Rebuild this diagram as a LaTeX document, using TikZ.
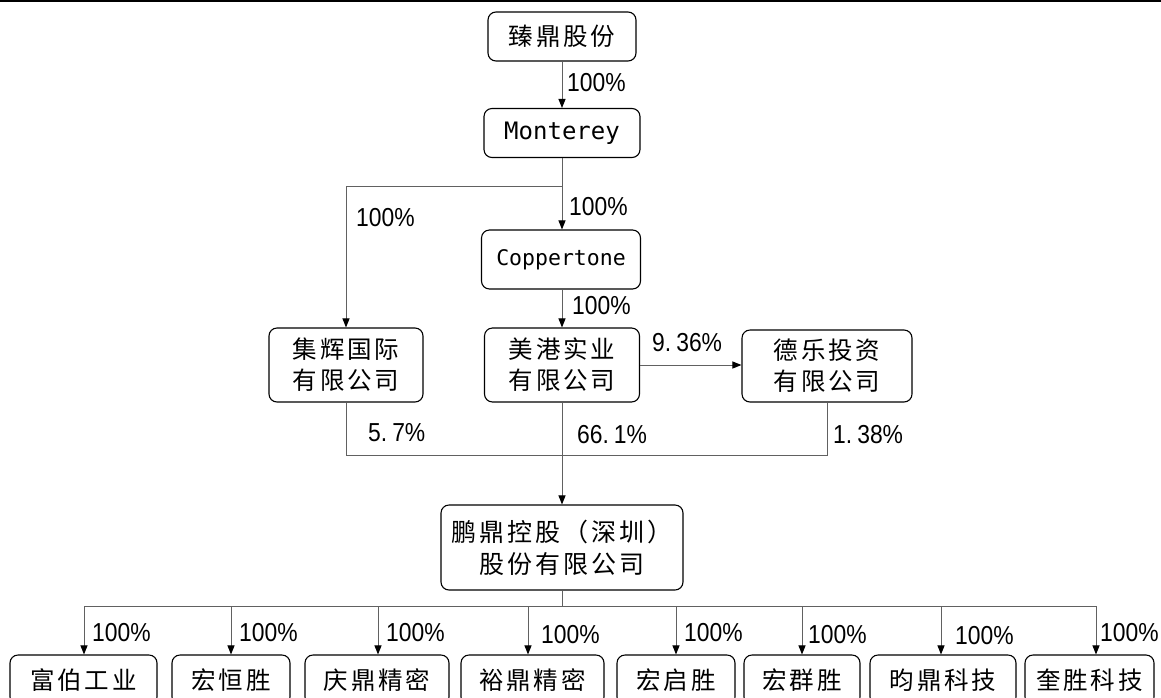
\documentclass[tikz,border=0pt]{standalone}
\usepackage{fontspec}
\usetikzlibrary{arrows.meta}
\newfontfamily\cjkfam[LetterSpace=12]{Noto Sans CJK SC}
\newfontfamily\pctfam[FakeStretch=0.88]{Liberation Sans}
\newfontfamily\monofam{DejaVu Sans Mono}
\newcommand{\cjkf}{\cjkfam\fontsize{24.5}{31}\selectfont}
\newcommand{\pctf}{\pctfam\fontsize{26}{28}\selectfont}
\begin{document}
\begin{tikzpicture}[x=1pt,y=-1pt,
  box/.style={draw=black, line width=1.1pt, rounded corners=8pt, inner sep=0pt, align=center, font=\cjkf},
  ln/.style={draw=black!62, line width=1pt},
  arr/.style={ln, -{Triangle[length=9pt,width=7pt,color=black]}},
  pl/.style={anchor=west, inner sep=0pt, font=\pctf}]
\useasboundingbox (0,0) rectangle (1161,697);
\clip (0,0) rectangle (1161,697);
\fill[white] (0,0) rectangle (1161,697);
\fill[black] (0,0) rectangle (1161,2);

% top chain
\node[box, minimum width=148pt, minimum height=49pt] (zd) at (562,36.5) {臻鼎股份};
\node[box, font={\monofam\fontsize{24}{26}\selectfont}, minimum width=156pt, minimum height=49pt] (mt) at (562,133) {Monterey};
\node[box, font={\monofam\fontsize{21.5}{24}\selectfont}, minimum width=159pt, minimum height=59pt] (cp) at (561,259.5) {Coppertone};
\node[box, minimum width=154pt, minimum height=74pt] (jh) at (346,365) {集辉国际\\有限公司};
\node[box, minimum width=155pt, minimum height=74pt] (mg) at (562,365) {美港实业\\有限公司};
\node[box, minimum width=170pt, minimum height=72pt] (dl) at (827,366) {德乐投资\\有限公司};
\node[box, font={\cjkfam\fontsize{25}{32}\selectfont}, minimum width=242pt, minimum height=85pt] (pd) at (562,547.5) {鹏鼎控股（深圳）\\股份有限公司};

% bottom row
\node[box, minimum width=147pt, minimum height=50pt] (n1) at (83.5,680) {富伯工业};
\node[box, minimum width=118pt, minimum height=50pt] (n2) at (231,680) {宏恒胜};
\node[box, minimum width=144pt, minimum height=50pt] (n3) at (377,680) {庆鼎精密};
\node[box, minimum width=143pt, minimum height=50pt] (n4) at (532.5,680) {裕鼎精密};
\node[box, minimum width=118pt, minimum height=50pt] (n5) at (676,680) {宏启胜};
\node[box, minimum width=116pt, minimum height=50pt] (n6) at (802,680) {宏群胜};
\node[box, minimum width=146pt, minimum height=50pt] (n7) at (943,680) {昀鼎科技};
\node[box, minimum width=129pt, minimum height=50pt] (n8) at (1089.5,680) {奎胜科技};

% connectors
\coordinate (b1) at (562,186);
\coordinate (b1l) at (346,186);
\draw[arr] (zd) -- (mt);
\draw[ln] (mt.south) -- (b1);
\draw[arr] (b1) -- (b1 |- cp.north);
\draw[arr] (b1) -- (b1l) -- (jh.north);
\draw[arr] (b1 |- cp.south) -- (mg.north);
\draw[arr] (mg.east) -- (dl.west |- mg.east);
\coordinate (m) at (562,455);
\draw[ln] (jh.south) -- (jh.south |- m) -- (dl.south |- m) -- (dl.south);
\draw[arr] (mg.south) -- (pd.north);

\coordinate (bb) at (562,606);
\coordinate (a1) at (84,606);
\coordinate (a2) at (231,606);
\coordinate (a3) at (378,606);
\coordinate (a4) at (528,606);
\coordinate (a5) at (676,606);
\coordinate (a6) at (802,606);
\coordinate (a7) at (941,606);
\coordinate (a8) at (1096,606);
\draw[ln] (pd.south) -- (bb);
\draw[ln] (a1) -- (a8);
\foreach \i in {1,...,8} {\draw[arr] (a\i) -- (a\i |- n\i.north);}

% labels
\node[pl] (l1) at (567,83) {100\%};
\node[pl] (l2) at (356,218) {100\%};
\node[pl] (l3) at (569,207) {100\%};
\node[pl] (l4) at (572,306) {100\%};
\node[pl] (l5) at (652,343) {9.\hspace{5pt}36\%};
\node[pl] (l6) at (368,433) {5.\hspace{5pt}7\%};
\node[pl] (l7) at (577,435) {66.\hspace{5pt}1\%};
\node[pl] (l8) at (833,435) {1.\hspace{5pt}38\%};
\node[pl] (p1) at (92,633) {100\%};
\node[pl] (p2) at (239,633) {100\%};
\node[pl] (p3) at (386,633) {100\%};
\node[pl] (p4) at (541,635) {100\%};
\node[pl] (p5) at (684,633) {100\%};
\node[pl] (p6) at (808,635) {100\%};
\node[pl] (p7) at (955,636) {100\%};
\node[pl] (p8) at (1100,633) {100\%};
\end{tikzpicture}
\end{document}
